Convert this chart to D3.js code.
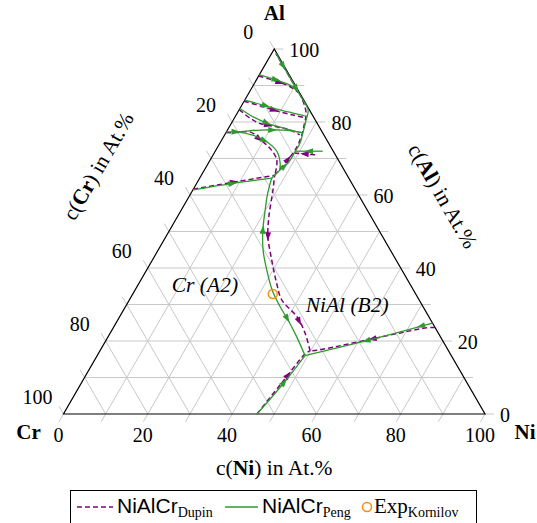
<!DOCTYPE html>
<html><head><meta charset="utf-8">
<script src="https://cdn.jsdelivr.net/npm/d3@7"></script>
<style>
html,body{margin:0;padding:0;background:#fff;}
svg{display:block;}
</style></head><body>
<svg id="chart" width="537" height="523"></svg>
<script>
// ---- data: every point is [Ni %, Al %]  (Cr = 100 - Ni - Al) ----
const tickValues = [0,10,20,30,40,50,60,70,80,90,100];
const labelValues = [0,20,40,60,80,100];
const gridValues = [10,20,30,40,50,60,70,80,90];

// NiAlCr (Peng) – green solid
const pengLower = [[45.9,0],[47.2,5],[48.3,10],[49.3,16.0]];
const pengRight = [[75.1,24.9],[61.1,19.8],[49.3,16.0]];
const pengMid = [[49.3,16.0],[44.7,21.2],[40.4,25.75],[36.7,29.4],[32.5,34.0],[28.5,39.45],[24.9,44.9],[22.1,50.4],[19.9,55.9],[18.2,60.5],[17.1,64.6]];
const pengLeft = [[0,61.4],[8.6,63.2],[17.1,64.6]];
const pengUpper = [[17.1,64.6],[17.9,66.8],[18.9,68.8],[19.0,71.8],[19.0,74.2],[18.3,77.0],[17.3,80.5],[16.4,83.3],[13.2,86.6],[8.0,91.8],[1.0,98.8]];
const pengA = [[0,92.9],[4.8,91.5],[8.7,90.1],[11.5,88.3]];
const pengB = [[0,86.0],[5.0,84.65],[8.8,83.55],[13.2,82.46],[16.4,81.7]];
const pengC = [[0,83.7],[4.3,81.4],[8.4,79.7],[12.9,78.35],[18.2,77.0]];
const pengD = [[0,77.3],[2.4,77.3],[7.7,77.8],[13.2,77.8],[18.2,77.1]];
const pengDLow = [[2.4,77.3],[6.7,76.4],[10.9,74.6],[14.7,71.9],[17.0,68.8],[17.9,66.8]];
const pengE = [[25.5,72.0],[19.0,72.0]];

// NiAlCr (Dupin) – purple dashed
const dupinLower = [[45.9,0],[47.5,8.5],[49.2,16.7],[49.85,17.3]];
const dupinRight = [[76.3,23.7],[74.4,23.6],[51.6,17.5],[49.85,17.3]];
const dupinMid = [[49.85,17.3],[46.2,22.2],[42.0,26.7],[36.2,31.2],[32.6,35.9],[28.3,42.2],[24.2,48.6],[21.7,54.05],[19.0,61.4],[17.4,65.4]];
const dupinLeft = [[0,61.6],[8.6,63.5],[17.4,65.4]];
const dupinUpper = [[17.4,65.4],[18.2,68.8],[18.8,72.3],[18.5,75.6],[17.5,79.2],[16.3,82.5],[13.2,86.6],[8.0,91.8],[1.0,98.8]];
const dupinA = [[0,92.6],[4.8,91.2],[8.7,89.8],[11.8,88.0]];
const dupinB = [[0,85.7],[5.2,84.2],[9.2,83.0],[13.5,81.9],[16.5,81.2]];
const dupinC = [[0,83.4],[3.8,81.0],[6.8,79.6],[11.2,78.7],[14.8,77.8],[17.8,76.5]];
const dupinD = [[0,77.1],[2.6,77.1],[5.6,77.3],[10.0,74.6],[13.2,72.3],[15.8,69.6],[17.0,66.8],[17.4,65.4]];
const dupinE = [[24.2,71.0],[19.0,71.5]];

// Experimental point (Kornilov)
const kornilovPoints = [[33.2,32.9]];

// region labels [Ni, Al]
const regionNames = ["Cr (A2)", "NiAl (B2)"];
const regionPos = [[15.9,35.3],[52.3,30.0]];

// arrows: [fraction along curve, direction (+1 forward, -1 backward)]
const pengCurves = [
  [pengLower, [[0.55,1]]],
  [pengRight, [[0.09,1],[0.52,1]]],
  [pengMid, [[0.22,-1],[0.72,1]]],
  [pengLeft, [[0.5,1]]],
  [pengUpper, [[0.12,1],[0.72,-1],[0.9,-1]]],
  [pengA, [[0.4,1]]],
  [pengB, [[0.35,1]]],
  [pengC, [[0.45,1]]],
  [pengD, [[0.12,1],[0.6,1]]],
  [pengDLow, [[0.45,1]]],
  [pengE, [[0.5,1]]]
];
const dupinCurves = [
  [dupinLower, [[0.6,1]]],
  [dupinRight, [[0.5,1]]],
  [dupinMid, [[0.17,-1],[0.67,-1]]],
  [dupinLeft, [[0.5,1]]],
  [dupinUpper, [[0.15,1]]],
  [dupinA, [[0.5,1]]],
  [dupinB, [[0.5,1]]],
  [dupinC, [[0.5,1]]],
  [dupinD, [[0.45,1]]],
  [dupinE, [[0.5,1]]]
];

// ---- drawing ----
const svg = d3.select("#chart");
const X = d3.scaleLinear().domain([0,100]).range([63.5,485]);
const Y = d3.scaleLinear().domain([0,100]).range([414,49]);
const P = p => [X(p[0] + p[1]/2), Y(p[1])];
const SERIF = "'Liberation Serif','Times New Roman',serif";
const SANS = "'Liberation Sans',Arial,sans-serif";
const GRID = "#c8c8c8";
const PURPLE = "#800080", GREEN = "#2f9a2f", ORANGE = "#ff8c00";

const gGrid = svg.append("g").attr("stroke", GRID).attr("stroke-width", 1).attr("fill","none");
gridValues.forEach(v => {
  [[[v,0],[v,100-v]], [[0,v],[100-v,v]], [[100-v,0],[0,100-v]]].forEach(seg => {
    const a = P(seg[0]), b = P(seg[1]);
    gGrid.append("line").attr("x1",a[0]).attr("y1",a[1]).attr("x2",b[0]).attr("y2",b[1]);
  });
});
// ticks
tickValues.forEach(v => {
  const b = P([v,0]);
  gGrid.append("line").attr("x1",b[0]).attr("y1",b[1]).attr("x2",b[0]-4.5).attr("y2",b[1]+7.8);
  const r = P([100-v,v]);
  gGrid.append("line").attr("x1",r[0]).attr("y1",r[1]).attr("x2",r[0]+9).attr("y2",r[1]);
  const l = P([0,100-v]);
  gGrid.append("line").attr("x1",l[0]).attr("y1",l[1]).attr("x2",l[0]-4.5).attr("y2",l[1]-7.8);
});
// triangle border
const tri = [P([0,0]), P([100,0]), P([0,100])];
svg.append("path").attr("d", "M"+tri.map(p=>p.join(",")).join("L")+"Z")
  .attr("fill","none").attr("stroke","#000").attr("stroke-width",1.2);

// tick labels
const gLab = svg.append("g").attr("font-family", SERIF).attr("font-size", 20).attr("fill","#000");
labelValues.forEach(v => {
  const b = P([v,0]);
  gLab.append("text").attr("x", b[0]-5).attr("y", b[1]+28).attr("text-anchor","middle").text(v);
  const r = P([100-v,v]);
  gLab.append("text").attr("x", r[0]+15).attr("y", r[1]+8).attr("text-anchor","start").text(v);
  const l = P([0,100-v]);
  gLab.append("text").attr("x", l[0]-26).attr("y", l[1]-10).attr("text-anchor","middle").text(v);
});

// corner labels
const corners = [["Al", P([0,100]), 0, -29], ["Cr", P([0,0]), -35, 25], ["Ni", P([100,0]), 40, 25]];
corners.forEach(c => {
  svg.append("text").attr("x", c[1][0]+c[2]).attr("y", c[1][1]+c[3]).attr("text-anchor","middle")
    .attr("font-family", SERIF).attr("font-size", 21).attr("font-weight","bold").text(c[0]);
});

// axis titles
function axisTitle(el, bold) {
  el.append("tspan").text("c(");
  el.append("tspan").attr("font-weight","bold").text(bold);
  el.append("tspan").text(") in At.%");
}
const tb = svg.append("text").attr("x", X(50)).attr("y", 475).attr("text-anchor","middle")
  .attr("font-family", SERIF).attr("font-size", 21.5);
axisTitle(tb, "Ni");
const tr = svg.append("text").attr("text-anchor","middle").attr("dy","0.35em")
  .attr("transform","translate(443,196) rotate(60)").attr("font-family", SERIF).attr("font-size", 21.5);
axisTitle(tr, "Al");
const tl = svg.append("text").attr("text-anchor","middle").attr("dy","0.35em")
  .attr("transform","translate(98,166) rotate(-60)").attr("font-family", SERIF).attr("font-size", 21.5);
axisTitle(tl, "Cr");

// region labels
regionNames.forEach((n,i) => {
  const p = P(regionPos[i]);
  svg.append("text").attr("x",p[0]).attr("y",p[1]+7).attr("text-anchor","middle")
    .attr("font-family", SERIF).attr("font-style","italic").attr("font-size", 21.5).text(n);
});

// curves
const line = d3.line().x(d => P(d)[0]).y(d => P(d)[1]).curve(d3.curveCatmullRom.alpha(0.5));
function arrowAt(g, pts, t, dir, color) {
  const pp = pts.map(P);
  const lens = [0];
  for (let i=1;i<pp.length;i++) lens.push(lens[i-1] + Math.hypot(pp[i][0]-pp[i-1][0], pp[i][1]-pp[i-1][1]));
  const target = t * lens[lens.length-1];
  let i = 1; while (i < pp.length-1 && lens[i] < target) i++;
  const f = (target - lens[i-1]) / (lens[i]-lens[i-1]);
  const x = pp[i-1][0] + f*(pp[i][0]-pp[i-1][0]);
  const y = pp[i-1][1] + f*(pp[i][1]-pp[i-1][1]);
  let ang = Math.atan2(pp[i][1]-pp[i-1][1], pp[i][0]-pp[i-1][0]) * 180/Math.PI;
  if (dir < 0) ang += 180;
  g.append("path").attr("d","M4.5,0L-4,-3L-4,3Z").attr("fill",color).attr("stroke","none")
    .attr("transform",`translate(${x},${y}) rotate(${ang})`);
}
const gD = svg.append("g");
dupinCurves.forEach(([pts, arrows]) => {
  gD.append("path").attr("d", line(pts)).attr("fill","none").attr("stroke",PURPLE)
    .attr("stroke-width",1.5).attr("stroke-dasharray","5,3");
  arrows.forEach(a => arrowAt(gD, pts, a[0], a[1], PURPLE));
});
const gP = svg.append("g");
pengCurves.forEach(([pts, arrows]) => {
  gP.append("path").attr("d", line(pts)).attr("fill","none").attr("stroke",GREEN).attr("stroke-width",1.3);
  arrows.forEach(a => arrowAt(gP, pts, a[0], a[1], GREEN));
});
kornilovPoints.forEach(k => {
  const p = P(k);
  svg.append("circle").attr("cx",p[0]).attr("cy",p[1]).attr("r",4.5)
    .attr("fill","none").attr("stroke",ORANGE).attr("stroke-width",1.5);
});

// legend
const lg = svg.append("g");
lg.append("rect").attr("x",70.5).attr("y",490.5).attr("width",406).attr("height",40)
  .attr("fill","#fff").attr("stroke","#000").attr("stroke-width",1);
const ly = 507;
lg.append("line").attr("x1",77).attr("x2",113).attr("y1",ly).attr("y2",ly)
  .attr("stroke",PURPLE).attr("stroke-width",1.5).attr("stroke-dasharray","5,3");
function legText(x, main, sub) {
  const t = lg.append("text").attr("x",x).attr("y",ly+6).attr("font-size",21);
  t.append("tspan").attr("font-family", main.fam).text(main.txt);
  t.append("tspan").attr("font-family", SERIF).attr("font-size",14).attr("dy",4).text(sub);
}
legText(117, {fam:SANS, txt:"NiAlCr"}, "Dupin");
lg.append("line").attr("x1",225).attr("x2",258).attr("y1",ly).attr("y2",ly)
  .attr("stroke",GREEN).attr("stroke-width",1.5);
legText(262, {fam:SANS, txt:"NiAlCr"}, "Peng");
lg.append("circle").attr("cx",367).attr("cy",ly).attr("r",4.5).attr("fill","none")
  .attr("stroke",ORANGE).attr("stroke-width",1.5);
legText(374, {fam:SERIF, txt:"Exp"}, "Kornilov");
</script>
</body></html>
